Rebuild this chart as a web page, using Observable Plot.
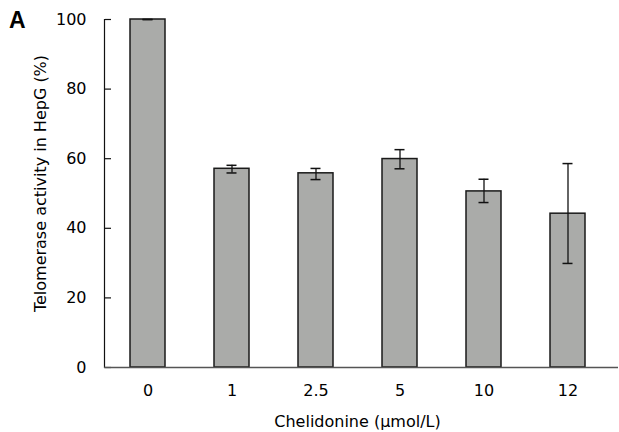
<!DOCTYPE html>
<html>
<head>
<meta charset="utf-8">
<script src="https://cdn.jsdelivr.net/npm/d3@7"></script>
<script src="https://cdn.jsdelivr.net/npm/@observablehq/plot@0.6"></script>
<style>
  html, body { margin: 0; padding: 0; background: #fff; }
  #chart { position: relative; width: 619px; height: 432px; }
  #panel { position: absolute; left: 9px; top: 9px; font: bold 23px "Liberation Sans", Arial, sans-serif; color: #000; line-height: 1; }
</style>
</head>
<body>
<div id="chart"><div id="panel">A</div></div>
<script>
const doses = ["0", "1", "2.5", "5", "10", "12"];
const activity = [100, 57.1, 55.8, 59.9, 50.6, 44.2];
const errLow = [100, 55.9, 54.0, 57.1, 47.4, 29.9];
const errHigh = [100, 58.1, 57.2, 62.6, 54.1, 58.6];
const yTicks = [0, 20, 40, 60, 80, 100];

const data = doses.map((d, i) => ({dose: d, value: activity[i], lo: errLow[i], hi: errHigh[i]}));
const font = '"DejaVu Sans", Verdana, sans-serif';

const chart = Plot.plot({
  width: 619,
  height: 432,
  marginLeft: 104,
  marginRight: 9,
  marginTop: 19,
  marginBottom: 65,
  style: {fontFamily: font, fontSize: "16px", color: "#000", background: "#fff"},
  x: {domain: doses, paddingInner: 0.585, paddingOuter: 0.2925, label: null},
  y: {domain: [0, 100], label: null},
  marks: [
    Plot.barY(data, {x: "dose", y: "value", fill: "#aaaba9", stroke: "#1a1a1a", strokeWidth: 1.5}),
    Plot.ruleX(data, {x: "dose", y1: "lo", y2: "hi", stroke: "#111", strokeWidth: 1.3}),
    Plot.tickY(data, {x: "dose", y: "lo", stroke: "#111", strokeWidth: 1.5, insetLeft: 12.5, insetRight: 12.5}),
    Plot.tickY(data, {x: "dose", y: "hi", stroke: "#111", strokeWidth: 1.5, insetLeft: 12.5, insetRight: 12.5}),
    Plot.axisY({ticks: yTicks, tickSize: 0, tickPadding: 18, fontSize: 16, label: null}),
    Plot.ruleY(yTicks, {y: d => d, insetLeft: 1, insetRight: 499, stroke: "#111", strokeWidth: 1.2}),
    Plot.axisX({tickSize: 0, tickPadding: 17, fontSize: 16, label: null}),
    Plot.frame({anchor: "left", stroke: "#111", strokeWidth: 1.2}),
    Plot.ruleY([0], {stroke: "#555", strokeWidth: 1.5, insetRight: -8}),
    Plot.text(["Chelidonine (\u03bcmol/L)"], {frameAnchor: "bottom", dy: 59, fontSize: 16}),
    Plot.text(["Telomerase activity in HepG (%)"], {frameAnchor: "left", textAnchor: "middle", dx: -64, dy: -10, rotate: -90, fontSize: 16})
  ]
});
document.getElementById("chart").appendChild(chart);
</script>
</body>
</html>
